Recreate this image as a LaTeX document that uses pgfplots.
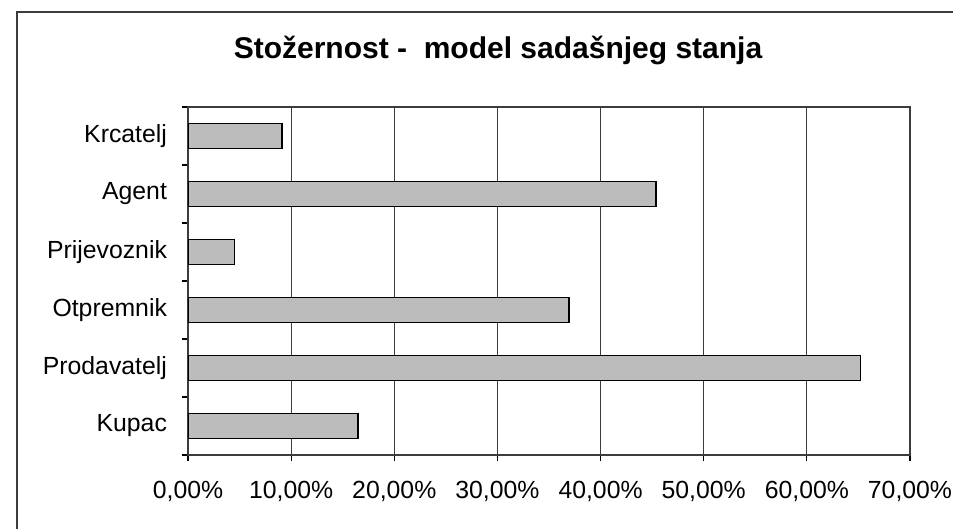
\documentclass[border=0pt]{standalone}
\usepackage{fontspec}
\setmainfont{Liberation Sans}
\usepackage{pgfplots}
\pgfplotsset{compat=1.18}

\definecolor{barfill}{RGB}{188,188,188}
\definecolor{gridc}{RGB}{60,60,60}

\begin{document}
\begin{tikzpicture}
% picture = 953 x 529 px, 1 px = 0.5 pt
\useasboundingbox (0,0) rectangle (476.5pt,264.5pt);
% outer chart frame (left and top edges visible)
\draw[gridc, line width=0.8pt] (8.5pt,0pt) -- (8.5pt,258.5pt) -- (476.5pt,258.5pt);
% title
\node[font=\bfseries\fontsize{15}{18}\selectfont] at (249pt,239.5pt) {Stožernost -\ \ model sadašnjeg stanja};

\begin{axis}[
    at={(94pt,37pt)}, anchor=south west,
    scale only axis,
    width=361pt, height=174pt,
    xbar,
    bar width=12.5pt,
    xmin=0, xmax=70,
    ymin=-0.5, ymax=5.5,
    xtick={0,10,...,70},
    xticklabels={{0,00\%},{10,00\%},{20,00\%},{30,00\%},{40,00\%},{50,00\%},{60,00\%},{70,00\%}},
    ytick={0,...,5},
    yticklabels={Kupac,Prodavatelj,Otpremnik,Prijevoznik,Agent,Krcatelj},
    minor ytick={-0.5,0.5,...,5.5},
    major y tick style={draw=none},
    xtick pos=bottom, ytick pos=left,
    tick align=outside,
    major tick length=3pt,
    minor tick length=3pt,
    xmajorgrids,
    major grid style={gridc, line width=0.55pt},
    axis line style={gridc, line width=0.6pt},
    tick style={black, line width=0.6pt},
    ticklabel style={font=\fontsize{12.4}{14}\selectfont},
    yticklabel style={xshift=-4pt},
    xticklabel style={yshift=-6.5pt},
]
\addplot[draw=black, line width=0.9pt, fill=barfill] coordinates {
    (16.5,0) % Kupac
    (65.2,1) % Prodavatelj
    (36.95,2) % Otpremnik
    (4.5,3) % Prijevoznik
    (45.4,4) % Agent
    (9.1,5) % Krcatelj
};
\end{axis}
\end{tikzpicture}
\end{document}
